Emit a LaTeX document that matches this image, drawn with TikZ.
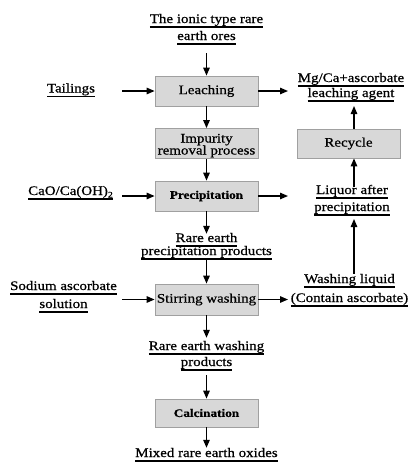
\documentclass[tikz,border=0pt]{standalone}
\usepackage{fontspec}
\setmainfont{Liberation Serif}[FakeStretch=1.15, FakeBold=0.7]
\usetikzlibrary{arrows.meta}
\definecolor{boxfill}{HTML}{D8D8D8}
\definecolor{boxdraw}{HTML}{A0A0A0}
\newcommand\ulx[1]{\setbox0\hbox{#1}\dp0=0pt\vtop{\box0\kern3.4pt\hrule height 1.4pt}}
\newcommand\blk[2][16pt]{\vtop{\baselineskip=#1\lineskiplimit=-100pt\lineskip=0pt\halign{\hfil##\hfil\cr#2\cr}}}
\tikzset{
  txt/.style={inner sep=0pt, anchor=base, font=\fontsize{13}{16}\selectfont},
  procbox/.style={draw=boxdraw, fill=boxfill, line width=0.8pt, minimum width=103pt,
    minimum height=30pt, inner sep=0pt, font=\fontsize{13}{16}\selectfont},
  boldbox/.style={procbox, font=\fontsize{11.5}{14}\selectfont\bfseries},
  arr/.style={line width=1.3pt, -{Triangle[length=8pt,width=6.5pt]}}
}
\begin{document}
\begin{tikzpicture}[x=1pt,y=-1pt]
\useasboundingbox[fill=white] (0,0) rectangle (408,464);
\coordinate (lx) at (122,0);
\coordinate (ax) at (288,0);
\coordinate (rx) at (354,0);
% centre column
\node[txt] (ore) at (206.5,23) {\blk[17pt]{\ulx{The ionic type rare}\cr\ulx{earth ores}}};
\node[procbox] (leach) at (206.5,91) {Leaching};
\node[procbox] (imp) at (206.5,143.5) {\raisebox{1pt}[0pt][0pt]{\blk[12pt]{Impurity\cr removal process}}};
\node[boldbox] (prec) at (206.5,196) {Precipitation};
\node[txt] (rarep) at (206.5,242) {\blk[13pt]{\ulx{Rare earth}\cr\ulx{precipitation products}}};
\node[procbox, minimum height=31pt] (stir) at (206.5,299.5) {Stirring washing};
\node[txt] (rarew) at (206.5,350) {\blk[16pt]{\ulx{Rare earth washing}\cr\ulx{products}}};
\node[boldbox, minimum height=28pt] (calc) at (206.5,413) {Calcination};
\node[txt] (mixed) at (206.5,457) {\ulx{Mixed rare earth oxides}};
% left column
\node[txt] (tail) at (71,92.5) {\ulx{Tailings}};
\node[txt] (cao) at (70.5,195) {\ulx{CaO/Ca(OH)\raisebox{-2.5pt}{\fontsize{8.5}{8.5}\selectfont 2}}};
\node[txt] (sod) at (63.5,290) {\blk[18pt]{\ulx{Sodium ascorbate}\cr\ulx{solution}}};
% right column
\node[txt] (mg) at (351,82) {\blk[15pt]{\ulx{Mg/Ca+ascorbate}\cr\ulx{leaching agent}}};
\node[procbox, minimum height=29pt] (rec) at (348.5,143.5) {Recycle};
\node[txt] (liq) at (352,194) {\blk[17pt]{\ulx{Liquor after}\cr\ulx{precipitation}}};
\node[txt] (wash) at (349.5,283) {\blk[19pt]{\ulx{Washing liquid}\cr\ulx{(Contain ascorbate)}}};
% connectors, centre
\draw[arr, shorten <=8pt] (ore) -- (leach);
\draw[arr] (leach) -- (imp);
\draw[arr] (imp) -- (prec);
\draw[arr, shorten >=-1pt] (prec) -- (rarep);
\draw[arr] (rarep) -- (stir);
\draw[arr, shorten >=3pt] (stir) -- (rarew);
\draw[arr, shorten <=4pt] (rarew) -- (calc);
\draw[arr] (calc) -- (mixed);
% inputs from left
\draw[arr] (lx |- leach) -- (leach.west);
\draw[arr] (lx |- prec) -- (prec.west);
\draw[arr] (lx |- stir) -- (stir.west);
% outputs to right
\draw[arr] (leach.east) -- (ax |- leach);
\draw[arr] (prec.east) -- (ax |- prec);
\draw[arr] (stir.east) -- (ax |- stir);
% right column upwards
\draw[arr, shorten >=3pt] (wash.north -| rx) -- (liq.south -| rx);
\draw[arr, shorten <=-2pt] (liq.north -| rx) -- (rec.south -| rx);
\draw[arr, shorten >=4pt] (rec.north -| rx) -- (mg.south -| rx);
\end{tikzpicture}
\end{document}
